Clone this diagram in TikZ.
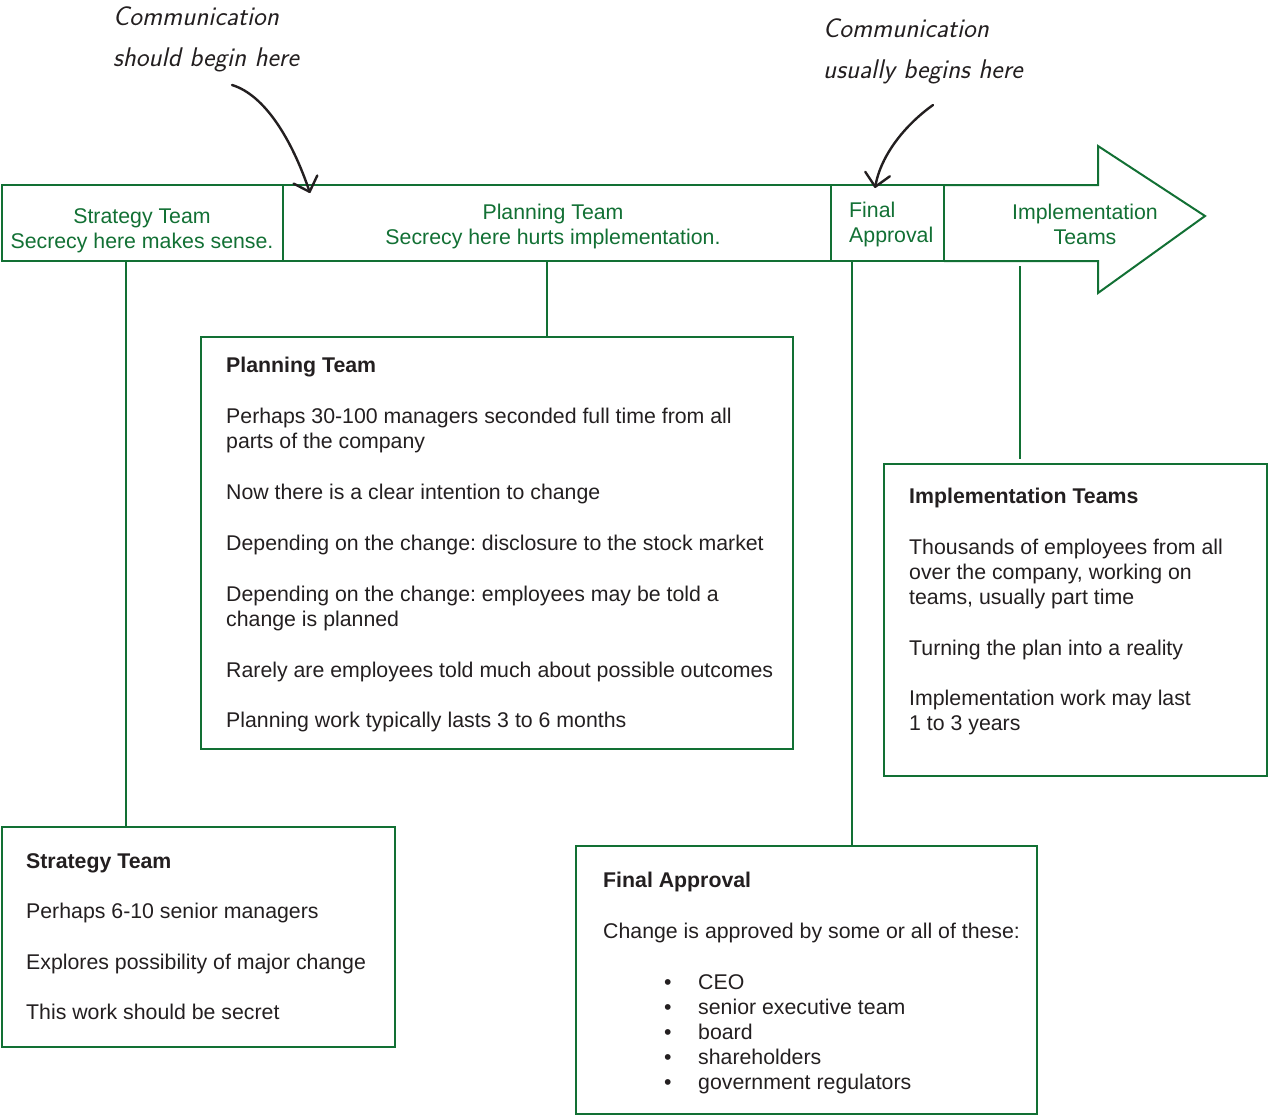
\documentclass[tikz,border=0pt]{standalone}
\usepackage{fontspec}
\setmainfont{Liberation Sans}
\usetikzlibrary{arrows.meta}
\definecolor{leaf}{RGB}{18,112,52}
\definecolor{ink}{RGB}{35,31,32}
\frenchspacing

\tikzset{
  frame/.style={draw=leaf, line width=2pt, inner sep=0pt, outer sep=0pt, anchor=north west},
  bartext/.style={text=leaf, inner sep=0pt, font=\fontsize{21.3}{25}\selectfont},
  body/.style={text=ink, anchor=base west, inner sep=0pt, font=\fontsize{21.3}{25}\selectfont},
  conn/.style={draw=leaf, line width=2pt},
  note/.style={text=ink, anchor=base west, inner sep=0pt, font=\fontsize{27}{41}\selectfont\sffamily\itshape},
  pointer/.style={draw=ink, line width=2.4pt, line cap=round,
    -{Straight Barb[length=13pt, width=25pt, round]}}
}

\begin{document}
\begin{tikzpicture}[x=1pt, y=-1pt]
\useasboundingbox (0,0) rectangle (1268,1117);

% ---- process bar along the top ----
\node[frame, minimum width=281pt, minimum height=76pt] (sbar) at (2,185) {};
\node[frame, minimum width=548pt, minimum height=76pt] (pbar) at (283,185) {};
\node[frame, minimum width=113pt, minimum height=76pt] (fbar) at (831,185) {};
\draw[leaf, line width=2pt, line join=miter]
  (fbar.north east) -- (1098,185) -- (1098,146) -- (1205,216)
  -- (1098,293) -- (1098,261) -- (fbar.south east);
\coordinate (ibar) at (1020,266);

\node[bartext, anchor=base] (sbartxt) at (142,223)
  {\parbox[t]{300pt}{\centering Strategy Team\\Secrecy here makes sense.}};
\node[bartext, anchor=base] (pbartxt) at (553,219)
  {\parbox[t]{500pt}{\centering Planning Team\\Secrecy here hurts implementation.}};
\node[bartext, anchor=base west] (fbartxt) at (849,217)
  {\parbox[t]{100pt}{\raggedright Final\\Approval}};
\node[bartext, anchor=base] (ibartxt) at (1085,219)
  {\parbox[t]{200pt}{\centering Implementation\\Teams}};

% ---- detail boxes ----
\node[frame, minimum width=592pt, minimum height=412pt] (pbox) at (201,337) {};
\node[frame, minimum width=383pt, minimum height=312pt] (ibox) at (884,464) {};
\node[frame, minimum width=393pt, minimum height=220pt] (sbox) at (2,827) {};
\node[frame, minimum width=461pt, minimum height=268pt] (fbox) at (576,846) {};

\node[body] (ptxt) at (226,372) {\parbox[t]{565pt}{\raggedright
  \textbf{Planning Team}\\[26pt]
  Perhaps 30-100 managers seconded full time from all\\
  parts of the company\\[26pt]
  Now there is a clear intention to change\\[26pt]
  Depending on the change: disclosure to the stock market\\[26pt]
  Depending on the change: employees may be told a\\
  change is planned\\[26pt]
  Rarely are employees told much about possible outcomes\\[25pt]
  Planning work typically lasts 3 to 6 months}};

\node[body] (itxt) at (909,503) {\parbox[t]{355pt}{\raggedright
  \textbf{Implementation Teams}\\[26pt]
  Thousands of employees from all\\
  over the company, working on\\
  teams, usually part time\\[26pt]
  Turning the plan into a reality\\[25pt]
  Implementation work may last\\
  1 to 3 years}};

\node[body] (stxt) at (26,868) {\parbox[t]{365pt}{\raggedright
  \textbf{Strategy Team}\\[25pt]
  Perhaps 6-10 senior managers\\[26pt]
  Explores possibility of major change\\[25pt]
  This work should be secret}};

\node[body] (ftxt) at (603,887) {\parbox[t]{430pt}{\raggedright
  \textbf{Final Approval}\\[26pt]
  Change is approved by some or all of these:\\[26pt]
  \hspace*{61pt}\makebox[34pt][l]{•}CEO\\
  \hspace*{61pt}\makebox[34pt][l]{•}senior executive team\\
  \hspace*{61pt}\makebox[34pt][l]{•}board\\
  \hspace*{61pt}\makebox[34pt][l]{•}shareholders\\
  \hspace*{61pt}\makebox[34pt][l]{•}government regulators}};

% ---- connectors from the bar down to the boxes ----
\coordinate (sx) at (126,0);
\coordinate (px) at (547,0);
\coordinate (fx) at (852,0);
\draw[conn] (sbar.south -| sx) -- (sbox.north -| sx);
\draw[conn] (pbar.south -| px) -- (pbox.north -| px);
\draw[conn] (fbar.south -| fx) -- (fbox.north -| fx);
\draw[conn, shorten >=5pt] (ibar) -- (ibox.north -| ibar);

% ---- handwritten remarks ----
\node[note] (early) at (113,25) {\parbox[t]{270pt}{Communication\\should begin here}};
\node[note] (late) at (823,37) {\parbox[t]{270pt}{Communication\\usually begins here}};

\coordinate (earlyfrom) at (232,85);
\coordinate (earlyto) at (310,193);
\coordinate (latefrom) at (933,105);
\coordinate (lateto) at (875,188);
\draw[pointer] (earlyfrom) .. controls (265,95) and (292,140) .. (earlyto);
\draw[pointer] (latefrom) .. controls (905,125) and (881,155) .. (lateto);
\end{tikzpicture}
\end{document}
